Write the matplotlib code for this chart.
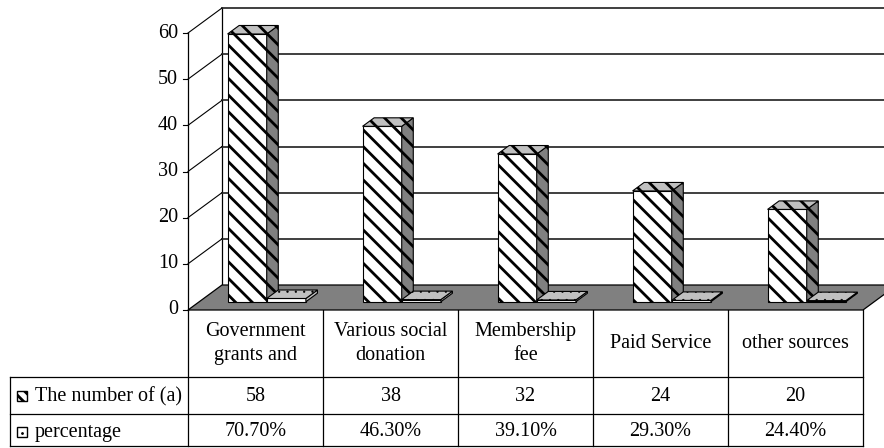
import matplotlib
matplotlib.use("Agg")
import matplotlib.pyplot as plt
from matplotlib.patches import Polygon, Rectangle

plt.rcParams['font.family'] = ['Liberation Serif', 'DejaVu Serif']
plt.rcParams['hatch.linewidth'] = 2.0

# datos
categories = ["Government\ngrants and", "Various social\ndonation", "Membership\nfee",
              "Paid Service", "other sources"]
counts = [58, 38, 32, 24, 20]
percent = [70.7, 46.3, 39.1, 29.3, 24.4]
pct_labels = ["%.2f%%" % p for p in percent]
row_labels = ["The number of (a)", "percentage"]
yticks = [0, 10, 20, 30, 40, 50, 60]

# geometria (pixeles de la figura)
W_PX, H_PX = 884, 448
X0, COLW = 188, 135          # borde izquierdo del primer grupo, ancho de columna
Y0, PXU = 310, 277 / 60      # linea base, pixeles por unidad
DX, DY = 34 / COLW, 25 / PXU  # profundidad del grafico 3D
F0, F1 = 0.33, 0.67           # profundidad de las barras
BW = 0.29                     # ancho de barra
FS = 14.5

fig = plt.figure(figsize=(W_PX / 100, H_PX / 100), dpi=100)
fig.patch.set_facecolor('white')

ax = fig.add_axes([0, 0, 1, 1])
ax.set_xlim(-X0 / COLW, (W_PX - X0) / COLW)
ax.set_ylim(-(H_PX - Y0) / PXU, Y0 / PXU)
ax.axis('off')

tb = fig.add_axes([0, 0, 1, 1], zorder=-1)
tb.set_xlim(0, W_PX)
tb.set_ylim(H_PX, 0)
tb.axis('off')

n = len(categories)
ymax = yticks[-1]
xr = (W_PX - X0) / COLW + 0.1

# pared del fondo
ax.plot([DX, DX], [DY, ymax + DY], color='black', lw=0.9, zorder=1)
for v in yticks[1:]:
    ax.plot([DX, xr], [v + DY, v + DY], color='#303030', lw=1.3, zorder=1)
    ax.plot([0, DX], [v, v + DY], color='black', lw=0.8, zorder=1)
    ax.plot([-5 / COLW, 0], [v, v], color='black', lw=0.8, zorder=1)
ax.plot([-5 / COLW, 0], [0, 0], color='black', lw=0.8, zorder=1)
ax.plot([0, 0], [0, ymax], color='black', lw=0.9, zorder=1)
for v in yticks:
    ax.text(-10 / COLW, v, str(v), ha='right', va='center', fontsize=FS)

# piso
ax.add_patch(Polygon([(0, 0), (n, 0), (n + DX, DY), (DX, DY)], closed=True,
                     facecolor='#808080', edgecolor='black', lw=0.9, zorder=2))


def bar3d(x, h, hatch, top_hatch, front, side, top, z):
    x0, y0 = x + F0 * DX, F0 * DY
    dx, dy = (F1 - F0) * DX, (F1 - F0) * DY
    ax.bar(x0, h, width=BW, bottom=y0, align='edge', facecolor=front,
           edgecolor='black', hatch=hatch, lw=0.8, zorder=z)
    ax.add_patch(Polygon([(x0 + BW, y0), (x0 + BW + dx, y0 + dy),
                          (x0 + BW + dx, y0 + dy + h), (x0 + BW, y0 + h)],
                         closed=True, facecolor=side, edgecolor='black',
                         hatch=hatch, lw=0.8, zorder=z))
    ax.add_patch(Polygon([(x0, y0 + h), (x0 + BW, y0 + h),
                          (x0 + BW + dx, y0 + h + dy), (x0 + dx, y0 + h + dy)],
                         closed=True, facecolor=top, edgecolor='black',
                         hatch=top_hatch, lw=0.8, zorder=z))


for i in range(n):
    bar3d(i + 0.5 - BW, counts[i], '\\\\', '\\\\', 'white', '#808080', '#c0c0c0', 3 + 2 * i)
    with matplotlib.rc_context({'hatch.linewidth': 0.4}):
        bar3d(i + 0.5, percent[i] / 100, None, '..', 'white', '#c0c0c0', '#c0c0c0', 4 + 2 * i)

# tabla de datos
cols = [X0 + COLW * i for i in range(n + 1)]
r0, r1, r2, r3 = Y0, 377, 414, 446
for x in cols:
    tb.plot([x, x], [r0, r3], color='black', lw=0.9)
tb.plot([10, 10], [r1, r3], color='black', lw=0.9)
for y in [r1, r2, r3]:
    tb.plot([10, cols[-1]], [y, y], color='black', lw=0.9)

for i in range(n):
    cx = (cols[i] + cols[i + 1]) / 2
    tb.text(cx, (r0 + r1) / 2, categories[i], ha='center', va='center',
            fontsize=FS, linespacing=1.3)
    tb.text(cx, (r1 + r2) / 2 + 1, str(counts[i]), ha='center', va='center', fontsize=FS)
    tb.text(cx, (r2 + r3) / 2 + 2, pct_labels[i], ha='center', va='center', fontsize=FS)

# leyenda dentro de la tabla
tb.add_patch(Rectangle((17, (r1 + r2) / 2 - 4), 10, 10, facecolor='white',
                       edgecolor='black', hatch='\\\\\\', lw=1.0))
tb.add_patch(Rectangle((17, (r2 + r3) / 2 - 3), 10, 10, facecolor='white',
                       edgecolor='black', lw=1.0))
tb.plot([22], [(r2 + r3) / 2 + 3], marker='.', color='black', ms=2)
tb.text(35, (r1 + r2) / 2 + 1, row_labels[0], ha='left', va='center', fontsize=FS)
tb.text(35, (r2 + r3) / 2 + 2, row_labels[1], ha='left', va='center', fontsize=FS)

fig.savefig('out.png', dpi=100)
